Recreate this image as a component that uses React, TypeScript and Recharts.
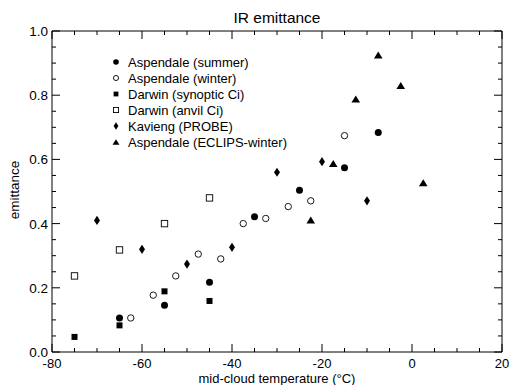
import React from 'react';
import { ScatterChart, Scatter, XAxis, YAxis, Legend } from 'recharts';

// ---- data ----
const aspendaleSummer = [
  { x: -65, y: 0.106 },
  { x: -55, y: 0.146 },
  { x: -45, y: 0.217 },
  { x: -35, y: 0.421 },
  { x: -25, y: 0.504 },
  { x: -15, y: 0.574 },
  { x: -7.5, y: 0.684 },
];
const aspendaleWinter = [
  { x: -62.5, y: 0.106 },
  { x: -57.5, y: 0.177 },
  { x: -52.5, y: 0.237 },
  { x: -47.5, y: 0.305 },
  { x: -42.5, y: 0.29 },
  { x: -37.5, y: 0.4 },
  { x: -32.5, y: 0.416 },
  { x: -27.5, y: 0.453 },
  { x: -22.5, y: 0.471 },
  { x: -15, y: 0.674 },
];
const darwinSynoptic = [
  { x: -75, y: 0.047 },
  { x: -65, y: 0.083 },
  { x: -55, y: 0.189 },
  { x: -45, y: 0.159 },
];
const darwinAnvil = [
  { x: -75, y: 0.237 },
  { x: -65, y: 0.318 },
  { x: -55, y: 0.4 },
  { x: -45, y: 0.48 },
];
const kavieng = [
  { x: -70, y: 0.41 },
  { x: -60, y: 0.32 },
  { x: -50, y: 0.274 },
  { x: -40, y: 0.326 },
  { x: -30, y: 0.56 },
  { x: -20, y: 0.593 },
  { x: -10, y: 0.471 },
];
const eclipsWinter = [
  { x: -22.5, y: 0.411 },
  { x: -17.5, y: 0.587 },
  { x: -12.5, y: 0.788 },
  { x: -7.5, y: 0.925 },
  { x: -2.5, y: 0.83 },
  { x: 2.5, y: 0.527 },
];

const seriesNames = [
  'Aspendale (summer)',
  'Aspendale (winter)',
  'Darwin (synoptic Ci)',
  'Darwin (anvil Ci)',
  'Kavieng (PROBE)',
  'Aspendale (ECLIPS-winter)',
];
const seriesKinds = ['fcircle', 'ocircle', 'fsquare', 'osquare', 'diamond', 'triangle'];

const xTicks = [-80, -75, -70, -65, -60, -55, -50, -45, -40, -35, -30, -25, -20, -15, -10, -5, 0, 5, 10, 15, 20];
const yTicks = [0, 0.05, 0.1, 0.15, 0.2, 0.25, 0.3, 0.35, 0.4, 0.45, 0.5, 0.55, 0.6, 0.65, 0.7, 0.75, 0.8, 0.85, 0.9, 0.95, 1.0];

const FONT = '"Liberation Sans", Arial, Helvetica, sans-serif';
const MAJOR = 8;
const MINOR = 4;

function Marker({ kind, cx, cy, s = 1 }: { kind: string; cx: number; cy: number; s?: number }) {
  if (cx == null || cy == null || isNaN(cx) || isNaN(cy)) return null;
  switch (kind) {
    case 'fcircle':
      return <circle cx={cx} cy={cy} r={3.5 * s} fill="#000" />;
    case 'ocircle':
      return <circle cx={cx} cy={cy} r={3.2 * s} fill="#fff" stroke="#000" strokeWidth={0.9} />;
    case 'fsquare': {
      const h = 3 * s;
      return <rect x={cx - h} y={cy - h} width={2 * h} height={2 * h} fill="#000" />;
    }
    case 'osquare': {
      const h = 3.2 * s;
      return <rect x={cx - h} y={cy - h} width={2 * h} height={2 * h} fill="#fff" stroke="#000" strokeWidth={0.9} />;
    }
    case 'diamond': {
      const w = 3 * s;
      const h = 4.6 * s;
      return (
        <polygon
          points={`${cx},${cy - h} ${cx + w},${cy} ${cx},${cy + h} ${cx - w},${cy}`}
          fill="#000"
        />
      );
    }
    case 'triangle': {
      const w = 4.3 * s;
      const h = 3.5 * s;
      return (
        <polygon
          points={`${cx},${cy - h} ${cx + w},${cy + h} ${cx - w},${cy + h}`}
          fill="#000"
        />
      );
    }
    default:
      return null;
  }
}

const isMajorX = (v: number) => Math.abs(v % 20) < 1e-6;
const isMajorY = (v: number) => Math.abs(v * 5 - Math.round(v * 5)) < 1e-6;

function XTick(props: any) {
  const { x, y, payload, side } = props;
  const v = payload.value;
  const major = isMajorX(v);
  const len = major ? MAJOR : MINOR;
  const dir = side === 'top' ? 1 : -1;
  return (
    <g>
      <line x1={x} y1={y} x2={x} y2={y + dir * len} stroke="#000" strokeWidth={1} />
      {side === 'bottom' && major ? (
        <text x={x} y={y + 16} textAnchor="middle" fontSize={13} fontFamily={FONT} fill="#000">
          {String(v)}
        </text>
      ) : null}
    </g>
  );
}

function YTick(props: any) {
  const { x, y, payload, side } = props;
  const v = payload.value;
  const major = isMajorY(v);
  const len = major ? MAJOR : MINOR;
  const dir = side === 'right' ? -1 : 1;
  return (
    <g>
      <line x1={x} y1={y} x2={x + dir * len} y2={y} stroke="#000" strokeWidth={1} />
      {side === 'left' && major ? (
        <text x={x - 4} y={y + 5} textAnchor="end" fontSize={13.5} fontFamily={FONT} fill="#000">
          {v.toFixed(1)}
        </text>
      ) : null}
    </g>
  );
}

function LegendContent(props: any) {
  const payload = props.payload || [];
  const rows = seriesNames.map((name, i) => {
    const entry = payload.find((p: any) => p.value === name);
    return { name: entry ? entry.value : name, kind: seriesKinds[i] };
  });
  return (
    <svg width={190} height={100} style={{ display: 'block', overflow: 'visible' }}>
      {rows.map((r, i) => {
        const cy = 9 + i * 16;
        return (
          <g key={r.name}>
            <Marker kind={r.kind} cx={8} cy={cy} s={0.8} />
            <text x={20} y={cy + 4.6} fontSize={13} fontFamily={FONT} fill="#000">
              {r.name}
            </text>
          </g>
        );
      })}
    </svg>
  );
}

const allSeries = [aspendaleSummer, aspendaleWinter, darwinSynoptic, darwinAnvil, kavieng, eclipsWinter];

export default function App() {
  return (
    <div style={{ position: 'absolute', left: 0, top: 0, width: 510, height: 385, background: '#fff', fontFamily: FONT }}>
      <ScatterChart width={510} height={385} margin={{ top: 30, right: 7, bottom: 32, left: 51 }}>
        <XAxis
          xAxisId="b"
          dataKey="x"
          type="number"
          orientation="bottom"
          domain={[-80, 20]}
          ticks={xTicks}
          interval={0}
          allowDataOverflow
          height={1}
          tickSize={0}
          tickMargin={0}
          tickLine={false}
          axisLine={{ stroke: '#000', strokeWidth: 1 }}
          tick={(p: any) => <XTick {...p} side="bottom" />}
        />
        <XAxis
          xAxisId="t"
          dataKey="x"
          type="number"
          orientation="top"
          domain={[-80, 20]}
          ticks={xTicks}
          interval={0}
          allowDataOverflow
          height={1}
          tickSize={0}
          tickMargin={0}
          tickLine={false}
          axisLine={{ stroke: '#000', strokeWidth: 1 }}
          tick={(p: any) => <XTick {...p} side="top" />}
        />
        <YAxis
          yAxisId="l"
          dataKey="y"
          type="number"
          orientation="left"
          domain={[0, 1]}
          ticks={yTicks}
          interval={0}
          allowDataOverflow
          width={1}
          tickSize={0}
          tickMargin={0}
          tickLine={false}
          axisLine={{ stroke: '#000', strokeWidth: 1 }}
          tick={(p: any) => <YTick {...p} side="left" />}
        />
        <YAxis
          yAxisId="r"
          dataKey="y"
          type="number"
          orientation="right"
          domain={[0, 1]}
          ticks={yTicks}
          interval={0}
          allowDataOverflow
          width={1}
          tickSize={0}
          tickMargin={0}
          tickLine={false}
          axisLine={{ stroke: '#000', strokeWidth: 1 }}
          tick={(p: any) => <YTick {...p} side="right" />}
        />
        <Legend
          layout="vertical"
          align="center"
          verticalAlign="middle"
          content={<LegendContent />}
          wrapperStyle={{ position: 'absolute', left: 108, top: 53, width: 190, height: 100 }}
        />
        {allSeries.map((data, i) => (
          <Scatter
            key={seriesNames[i]}
            name={seriesNames[i]}
            data={data}
            xAxisId="b"
            yAxisId="l"
            fill="#000"
            isAnimationActive={false}
            shape={(p: any) => <Marker kind={seriesKinds[i]} cx={p.cx} cy={p.cy} />}
          />
        ))}
      </ScatterChart>
      <svg
        width={510}
        height={385}
        style={{ position: 'absolute', left: 0, top: 0, pointerEvents: 'none' }}
      >
        <text x={277} y={23} textAnchor="middle" fontSize={15.5} fontFamily={FONT} fill="#000">
          IR emittance
        </text>
        <text x={277} y={382.5} textAnchor="middle" fontSize={13} fontFamily={FONT} fill="#000">
          mid-cloud temperature (°C)
        </text>
        <text
          x={18.5}
          y={190}
          textAnchor="middle"
          fontSize={13.5}
          fontFamily={FONT}
          fill="#000"
          transform="rotate(-90 18.5 190)"
        >
          emittance
        </text>
      </svg>
    </div>
  );
}
